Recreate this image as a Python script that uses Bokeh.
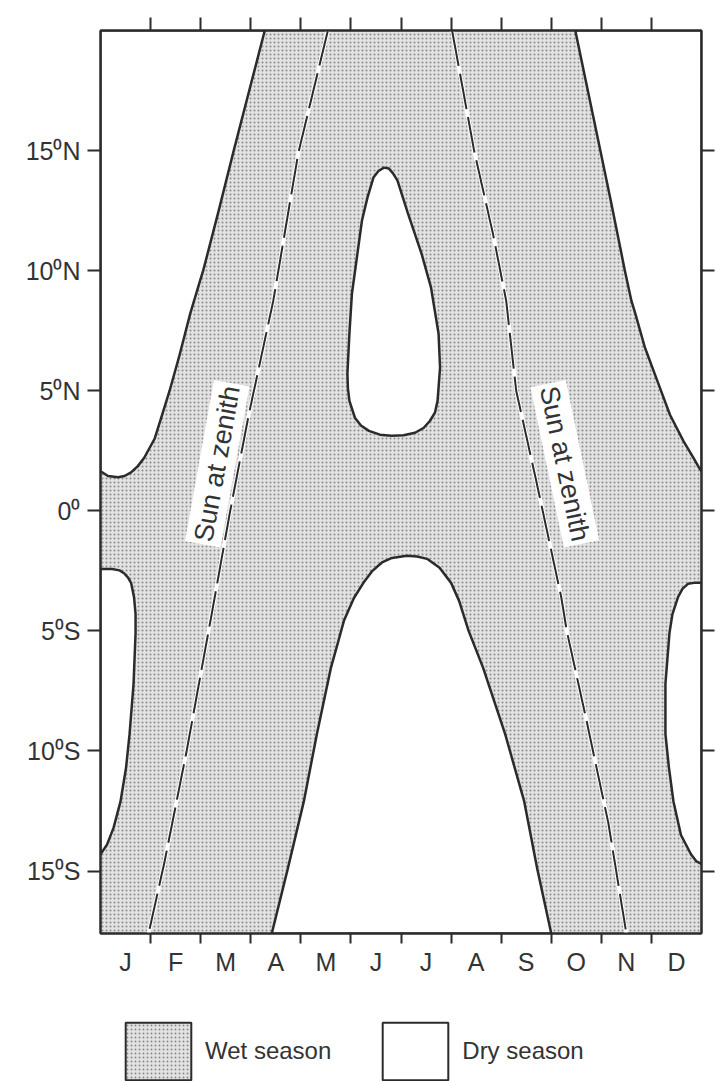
from bokeh.plotting import figure
from bokeh.layouts import column
from bokeh.models import Range1d, LinearAxis, FixedTicker, Label, Legend, LegendItem
from bokeh.embed import file_html
from bokeh.resources import INLINE

# ---------------- data ----------------
MONTHS = ["J", "F", "M", "A", "M", "J", "J", "A", "S", "O", "N", "D"]
LAT_TICKS = [15, 10, 5, 0, -5, -10, -15]
LAT_LABELS = ["15\u2070N", "10\u2070N", "5\u2070N", "0\u2070", "5\u2070S", "10\u2070S", "15\u2070S"]
SEASONS = ["Wet season", "Dry season"]
X_MIN, X_MAX = 0.0, 12.0          # months from 1 January
LAT_MIN, LAT_MAX = -17.6, 20.0    # latitude, degrees

# dry season boundaries (x = months from 1 Jan, y = latitude)
ln_x = [3.28, 2.97, 2.66, 2.36, 2.05, 1.99, 1.79, 1.58, 1.38, 1.23, 1.08, 0.87, 0.74, 0.61, 0.48, 0.35, 0.15, 0.0]
ln_lat = [20.0, 17.5, 15.0, 12.5, 10.0, 9.6, 8.2, 6.5, 5.0, 4.0, 3.0, 2.2, 1.85, 1.6, 1.45, 1.4, 1.45, 1.65]

rn_x = [9.48, 9.73, 9.98, 10.19, 10.47, 10.6, 10.68, 10.87, 11.12, 11.37, 11.64, 11.84, 11.95, 12.0]
rn_lat = [20.0, 17.5, 15.0, 12.9, 10.0, 8.75, 8.2, 6.8, 5.4, 4.0, 2.9, 2.2, 1.8, 1.65]

ls_x = [0.0, 0.23, 0.38, 0.47, 0.55, 0.61, 0.67, 0.7, 0.7, 0.66, 0.58, 0.51, 0.4, 0.26, 0.13, 0.0]
ls_lat = [-2.42, -2.42, -2.48, -2.6, -2.78, -3.0, -3.6, -4.3, -5.1, -7.2, -9.3, -10.7, -12.1, -13.2, -13.9, -14.3]

rs_x = [12.0, 11.85, 11.73, 11.62, 11.53, 11.42, 11.36, 11.28, 11.28, 11.35, 11.44, 11.59, 11.79, 11.9, 12.0]
rs_lat = [-3.0, -3.0, -3.04, -3.25, -3.6, -4.3, -5.1, -7.2, -9.3, -10.7, -12.1, -13.5, -14.3, -14.6, -14.7]

cb_x = [3.42, 3.74, 4.06, 4.32, 4.6, 4.75, 4.86, 5.06, 5.25, 5.43, 5.62, 5.82, 6.12, 6.32, 6.52,
        6.77, 7.0, 7.16, 7.35, 7.64, 8.08, 8.46, 8.72, 9.0]
cb_lat = [-17.6, -14.9, -12.1, -9.3, -6.54, -5.42, -4.58, -3.63, -3.0, -2.5, -2.15, -1.96, -1.875, -1.9, -2.0,
          -2.375, -3.0, -3.75, -5.0, -6.54, -9.3, -12.1, -14.9, -17.6]

td_x = [5.66, 5.55, 5.45, 5.33, 5.22, 5.13, 5.02, 4.97, 4.93, 4.94, 4.97, 5.08, 5.2, 5.36, 5.58, 5.81, 6.05,
        6.28, 6.45, 6.58, 6.68, 6.73, 6.78, 6.75, 6.6, 6.41, 6.14, 5.93, 5.84, 5.76]
td_lat = [14.29, 14.15, 13.875, 13.04, 12.08, 10.71, 9.04, 7.375, 5.71, 5.1, 4.58, 3.875, 3.55, 3.33, 3.17, 3.125, 3.15,
          3.25, 3.45, 3.75, 4.1, 4.58, 5.96, 7.375, 9.29, 10.71, 12.375, 13.75, 14.05, 14.25]

# sun at zenith
sz1_x = [4.54, 3.95, 3.45, 2.96, 2.59, 2.22, 1.72, 1.28, 0.96]
sz1_lat = [20.0, 14.9, 8.75, 4.0, 0.0, -4.3, -10.0, -14.6, -17.6]
sz2_x = [7.02, 7.46, 7.84, 8.1, 8.3, 8.7, 9.2, 9.31, 9.69, 10.14, 10.5]
sz2_lat = [20.0, 15.0, 11.5, 8.75, 5.0, 1.25, -3.6, -5.0, -8.6, -13.0, -17.6]

# ---------------- styles ----------------
FONT = "Liberation Sans"
INK = "#2b2b2b"
TXT = "#333333"
WET = dict(fill_color="#e2e2e2", hatch_pattern="dot", hatch_scale=4, hatch_weight=2,
           hatch_color="#8a8a8a", line_color=INK, line_width=2)
DRY = dict(fill_color="white", line_color=INK, line_width=2.5, line_join="round")

# ---------------- main figure ----------------
p = figure(width=715, height=980, output_backend="svg", toolbar_location=None,
           x_range=Range1d(X_MIN, X_MAX), y_range=Range1d(LAT_MIN, LAT_MAX),
           x_axis_location=None, y_axis_location=None,
           min_border_left=100, min_border_right=14, min_border_top=30, min_border_bottom=47,
           background_fill_color="white", border_fill_color="white")
for g in p.grid:
    g.visible = False
p.outline_line_color = INK
p.outline_line_width = 2

month_bounds = list(range(1, 12))
month_centers = [i + 0.5 for i in range(12)]

left = LinearAxis(ticker=FixedTicker(ticks=LAT_TICKS, minor_ticks=[]),
                  major_label_overrides={t: l for t, l in zip(LAT_TICKS, LAT_LABELS)})
right = LinearAxis(ticker=FixedTicker(ticks=LAT_TICKS, minor_ticks=[]))
bottom = LinearAxis(ticker=FixedTicker(ticks=month_centers, minor_ticks=month_bounds),
                    major_label_overrides={c: m for c, m in zip(month_centers, MONTHS)})
top = LinearAxis(ticker=FixedTicker(ticks=month_bounds, minor_ticks=[]))

for ax in (left, right, bottom, top):
    ax.axis_line_color = INK
    ax.axis_line_width = 2
    ax.major_tick_line_color = INK
    ax.major_tick_line_width = 2
    ax.minor_tick_line_color = INK
    ax.minor_tick_line_width = 2
    ax.major_tick_in = 0
    ax.minor_tick_in = 0
    ax.major_label_text_font = FONT
    ax.major_label_text_font_size = "25px"
    ax.major_label_text_color = TXT

left.major_tick_out = 13
left.major_label_standoff = 7
right.major_tick_out = 13
right.major_label_text_font_size = "1px"
right.major_label_text_color = None
top.major_tick_out = 13
top.major_label_text_font_size = "1px"
top.major_label_text_color = None
bottom.major_tick_out = 0
bottom.minor_tick_out = 10
bottom.major_label_standoff = 4

p.add_layout(left, "left")
p.add_layout(right, "right")
p.add_layout(bottom, "below")
p.add_layout(top, "above")

# wet season: whole frame stippled
p.quad(left=[X_MIN], right=[X_MAX], bottom=[LAT_MIN], top=[LAT_MAX], **WET)

# dry season regions
p.patches(xs=[ln_x + [X_MIN], rn_x + [X_MAX], ls_x, rs_x, cb_x, td_x],
          ys=[ln_lat + [LAT_MAX], rn_lat + [LAT_MAX], ls_lat, rs_lat, cb_lat, td_lat], **DRY)

# sun at zenith dashed lines
for xs, ys in ((sz1_x, sz1_lat), (sz2_x, sz2_lat)):
    p.line(xs, ys, line_color="white", line_width=4)
    p.line(xs, ys, line_color=INK, line_width=2, line_dash="36 8")

for lx, ly, ang in ((2.33, 1.96, 79.8), (9.27, 1.96, -78.2)):
    p.add_layout(Label(x=lx, y=ly, text="Sun at zenith", angle=ang, angle_units="deg",
                       text_align="center", text_baseline="middle", text_font=FONT,
                       text_font_size="27px", text_color=TXT,
                       background_fill_color="white", padding=3))

# ---------------- legend strip ----------------
NAN = float("nan")
lg = figure(width=715, height=101, output_backend="svg", toolbar_location=None,
            x_range=Range1d(0, 1), y_range=Range1d(0, 1),
            x_axis_location=None, y_axis_location=None,
            min_border_left=0, min_border_right=0, min_border_top=0, min_border_bottom=0,
            background_fill_color="white", border_fill_color="white", outline_line_color=None)
for g in lg.grid:
    g.visible = False
wet_r = lg.quad(left=[NAN], right=[NAN], bottom=[NAN], top=[NAN], **WET)
dry_r = lg.quad(left=[NAN], right=[NAN], bottom=[NAN], top=[NAN],
                fill_color="white", line_color=INK, line_width=2)

legend = Legend(items=[LegendItem(label=SEASONS[0], renderers=[wet_r]),
                       LegendItem(label=SEASONS[1], renderers=[dry_r])],
                orientation="horizontal", location=(17, -6),
                glyph_width=82, glyph_height=72, label_standoff=6, spacing=43,
                padding=0, margin=0, border_line_color=None, background_fill_alpha=0,
                label_text_font=FONT, label_text_font_size="24px", label_text_color=TXT,
                label_height=72)
lg.add_layout(legend, "center")

open("out.html", "w").write(file_html(column(p, lg, spacing=0), INLINE))
